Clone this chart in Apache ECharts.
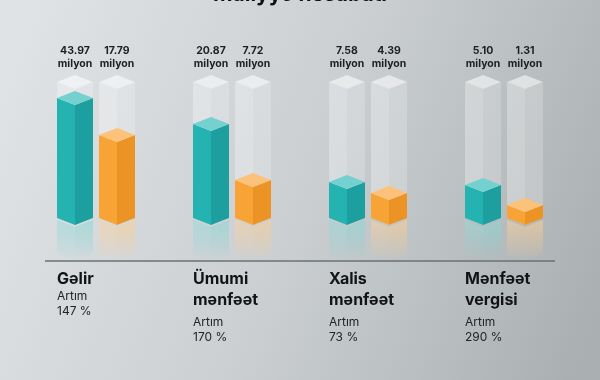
<!DOCTYPE html>
<html>
<head>
<meta charset="utf-8">
<script src="https://cdn.jsdelivr.net/npm/echarts@6/dist/echarts.min.js"></script>
<style>
html,body{margin:0;padding:0;}
#main{width:600px;height:380px;}
</style>
</head>
<body>
<div id="main"></div>
<script>
// ---- data ----
const titleText = 'Maliyyə hesabatı';
const categories = ['Gəlir', 'Ümumi\nmənfəət', 'Xalis\nmənfəət', 'Mənfəət\nvergisi'];
const current = [43.97, 20.87, 7.58, 5.10];
const previous = [17.79, 7.72, 4.39, 1.31];
const growth = [147, 170, 73, 290];
const unitLabel = 'milyon';
const growthLabel = 'Artım';
// per-group value scales (infographic uses an independent scale for each group)
const axisMin = [-40.9, -1.2, -2.9, -1.15];
const axisMax = [55.3, 30.7, 36.6, 24.6];

const FONT = 'Inter, "Noto Sans", sans-serif';
const chart = echarts.init(document.getElementById('main'));

const palette = [
  {left: '#25b3b1', right: '#1c9f9e', top: '#74d1cf', refl: '37,179,177'},
  {left: '#f8a336', right: '#ec9325', top: '#fcc27a', refl: '248,163,54'}
];

function faces(x, yTop, yBase, w, d) {
  return {
    left: [[x - w, yTop], [x, yTop + d], [x, yBase + d], [x - w, yBase]],
    right: [[x, yTop + d], [x + w, yTop], [x + w, yBase], [x, yBase + d]],
    top: [[x - w, yTop], [x, yTop - d], [x + w, yTop], [x, yTop + d]]
  };
}

function renderItem(params, api) {
  const g = api.value(0);
  const vals = [api.value(1), api.value(2)];
  const base = api.coord([g, axisMin[g]]);
  const cx = base[0], yBase = base[1];
  const yGlass = api.coord([g, axisMax[g]])[1];
  const w = 18, d = 7, off = 21, reflH = 36;
  const children = [];
  for (let i = 0; i < 2; i++) {
    const x = cx + (i === 0 ? -off : off);
    const col = palette[i];
    const yTop = api.coord([g, vals[i]])[1];
    // reflection
    const rl = [[x - w, yBase + 2], [x, yBase + d + 2], [x, yBase + d + reflH], [x - w, yBase + reflH]];
    const rr = [[x, yBase + d + 2], [x + w, yBase + 2], [x + w, yBase + reflH], [x, yBase + d + reflH]];
    [rl, rr].forEach((pts, k) => {
      children.push({type: 'polygon', shape: {points: pts}, style: {
        fill: new echarts.graphic.LinearGradient(0, 0, 0, 1, [
          {offset: 0, color: 'rgba(' + col.refl + ',' + (k ? 0.42 : 0.36) + ')'},
          {offset: 1, color: 'rgba(' + col.refl + ',0)'}
        ])}});
      children.push({type: 'polygon', shape: {points: pts}, style: {
        fill: new echarts.graphic.LinearGradient(0, 0, 0, 1, [
          {offset: 0, color: 'rgba(255,255,255,0.28)'},
          {offset: 1, color: 'rgba(255,255,255,0)'}
        ])}});
    });
    // glass column
    const gf = faces(x, yGlass, yBase, w, d);
    children.push({type: 'polygon', shape: {points: gf.left}, style: {fill: 'rgba(255,255,255,0.30)'}});
    children.push({type: 'polygon', shape: {points: gf.right}, style: {fill: 'rgba(255,255,255,0.2)'}});
    children.push({type: 'polygon', shape: {points: gf.top}, style: {fill: 'rgba(255,255,255,0.55)'}});
    // coloured bar
    const bf = faces(x, yTop, yBase, w, d);
    children.push({type: 'polygon', shape: {points: bf.left}, style: {fill: col.left}});
    children.push({type: 'polygon', shape: {points: bf.right}, style: {fill: col.right}});
    children.push({type: 'polygon', shape: {points: bf.top}, style: {fill: col.top}});
    // value label
    children.push({type: 'text', style: {
      x: x, y: yGlass - 31, text: vals[i].toFixed(2), fill: '#1d1f20',
      font: 'bold 10.5px ' + FONT, align: 'center', verticalAlign: 'middle'}});
    children.push({type: 'text', style: {
      x: x, y: yGlass - 18, text: unitLabel, fill: '#1d1f20',
      font: 'bold 10.5px ' + FONT, align: 'center', verticalAlign: 'middle'}});
  }
  // texts below
  const lx = cx - off - w;
  const lines = categories[g].split('\n');
  lines.forEach((ln, k) => {
    children.push({type: 'text', style: {
      x: lx, y: 279 + k * 21, text: ln, fill: '#121314',
      font: 'bold 16px ' + FONT, align: 'left', verticalAlign: 'middle'}});
  });
  const artY = lines.length === 1 ? 296 : 322;
  children.push({type: 'text', style: {
    x: lx, y: artY, text: growthLabel, fill: '#222425',
    font: '12px ' + FONT, align: 'left', verticalAlign: 'middle'}});
  children.push({type: 'text', style: {
    x: lx, y: artY + 15, text: growth[g] + ' %', fill: '#222425',
    font: '12px ' + FONT, align: 'left', verticalAlign: 'middle'}});
  return {type: 'group', children: children};
}

const series = categories.map((c, g) => ({
  type: 'custom',
  yAxisIndex: g,
  renderItem: renderItem,
  encode: {x: 0, y: [1, 2]},
  data: [[g, current[g], previous[g]]],
  silent: true
}));

chart.setOption({
  animation: false,
  backgroundColor: new echarts.graphic.LinearGradient(0, 0.2, 1, 0.8, [
    {offset: 0, color: '#e0e3e6'},
    {offset: 0.5, color: '#cbcfd2'},
    {offset: 1, color: '#aab0b1'}
  ]),
  grid: {left: 28, right: 28, top: 82, bottom: 162},
  xAxis: {type: 'category', data: categories, show: false},
  yAxis: categories.map((c, g) => ({type: 'value', min: axisMin[g], max: axisMax[g], show: false})),
  graphic: [
    {type: 'text', left: 'center', top: -16, style: {
      text: titleText, fill: '#111', font: 'bold 21px ' + FONT}},
    {type: 'line', shape: {x1: 45, y1: 261, x2: 555, y2: 261},
      style: {stroke: '#6b7173', lineWidth: 1.5}}
  ],
  series: series
});
</script>
</body>
</html>
